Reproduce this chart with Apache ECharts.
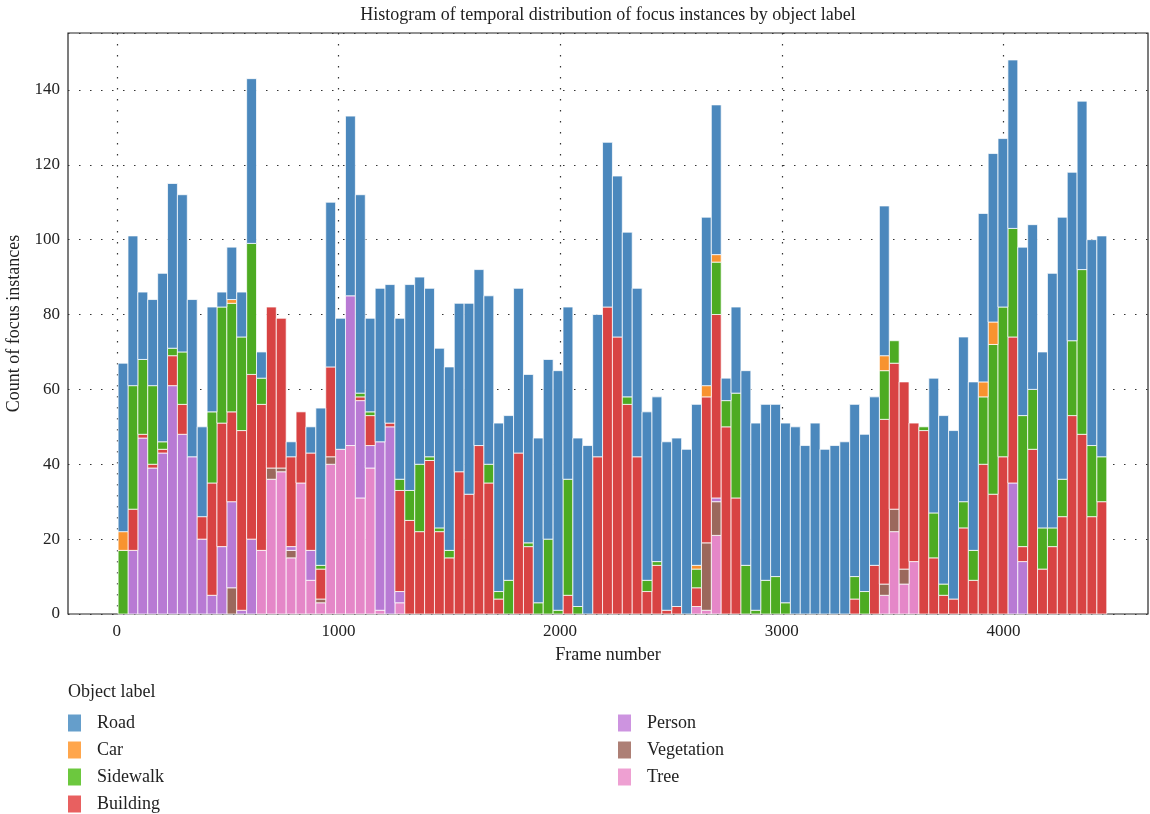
<!DOCTYPE html>
<html>
<head>
  <meta charset="utf-8">
  <title>Histogram of temporal distribution of focus instances</title>
  <script src="https://cdn.jsdelivr.net/npm/echarts@6.0.0/dist/echarts.min.js"></script>
  <style>
    html, body { margin: 0; padding: 0; background: #fff; }
    #chart { width: 1150px; height: 814px; }
  </style>
</head>
<body>
<div id="chart"></div>
<script>
  // 100 frame bins, about 44.6 frames wide, first edge at frame 6
  const binStart = 6;
  const binWidth = 44.6;

  const labelNames = ['Road', 'Car', 'Sidewalk', 'Building', 'Person', 'Vegetation', 'Tree'];
  const xTicks = [0, 1000, 2000, 3000, 4000];

  // counts per bin
  const road = [
    45, 40, 18, 23, 45, 44, 42, 42, 24, 28,
    4, 14, 12, 44, 7, 0, 0, 4, 0, 7,
    42, 44, 35, 48, 53, 25, 41, 37, 43, 55,
    50, 45, 48, 49, 45, 51, 47, 45, 45, 44,
    44, 45, 44, 48, 64, 46, 45, 45, 38, 44,
    43, 44, 45, 45, 44, 45, 45, 44, 43, 45,
    40, 6, 23, 52, 50, 47, 46, 48, 50, 45,
    51, 44, 45, 46, 46, 42, 45, 40, 0, 0,
    0, 0, 36, 45, 45, 44, 45, 45, 45, 45,
    45, 45, 44, 47, 68, 70, 45, 45, 55, 59
  ];
  const car = [
    5, 0, 0, 0, 0, 0, 0, 0, 0, 0,
    0, 1, 0, 0, 0, 0, 0, 0, 0, 0,
    0, 0, 0, 0, 0, 0, 0, 0, 0, 0,
    0, 0, 0, 0, 0, 0, 0, 0, 0, 0,
    0, 0, 0, 0, 0, 0, 0, 0, 0, 0,
    0, 0, 0, 0, 0, 0, 0, 0, 1, 3,
    2, 0, 0, 0, 0, 0, 0, 0, 0, 0,
    0, 0, 0, 0, 0, 0, 0, 4, 0, 0,
    0, 0, 0, 0, 0, 0, 0, 4, 6, 0,
    0, 0, 0, 0, 0, 0, 0, 0, 0, 0
  ];
  const sidewalk = [
    17, 33, 20, 21, 2, 2, 14, 0, 0, 19,
    31, 29, 25, 35, 7, 0, 0, 0, 0, 0,
    1, 0, 0, 0, 1, 1, 0, 0, 3, 8,
    18, 1, 1, 2, 0, 0, 0, 5, 2, 9,
    0, 1, 3, 20, 1, 31, 2, 0, 0, 0,
    0, 2, 0, 3, 1, 0, 0, 0, 5, 0,
    14, 7, 28, 13, 1, 9, 10, 3, 0, 0,
    0, 0, 0, 0, 6, 6, 0, 13, 6, 0,
    0, 1, 12, 3, 0, 7, 8, 18, 40, 40,
    29, 35, 16, 11, 5, 10, 20, 44, 19, 12
  ];
  const building = [
    0, 11, 1, 1, 1, 8, 8, 0, 6, 30,
    33, 24, 48, 44, 39, 43, 40, 24, 19, 26,
    8, 24, 0, 0, 1, 8, 0, 1, 27, 25,
    22, 41, 22, 15, 38, 32, 45, 35, 4, 0,
    43, 18, 0, 0, 0, 5, 0, 0, 42, 82,
    74, 56, 42, 6, 13, 1, 2, 0, 5, 39,
    49, 50, 31, 0, 0, 0, 0, 0, 0, 0,
    0, 0, 0, 0, 4, 0, 13, 44, 39, 50,
    37, 49, 15, 5, 4, 23, 9, 40, 32, 42,
    39, 4, 44, 12, 18, 26, 53, 48, 26, 30
  ];
  const person = [
    0, 17, 47, 39, 43, 61, 48, 42, 20, 5,
    18, 23, 1, 20, 0, 0, 0, 1, 0, 8,
    0, 0, 0, 40, 26, 6, 45, 50, 3, 0,
    0, 0, 0, 0, 0, 0, 0, 0, 0, 0,
    0, 0, 0, 0, 0, 0, 0, 0, 0, 0,
    0, 0, 0, 0, 0, 0, 0, 0, 0, 0,
    1, 0, 0, 0, 0, 0, 0, 0, 0, 0,
    0, 0, 0, 0, 0, 0, 0, 0, 0, 0,
    0, 0, 0, 0, 0, 0, 0, 0, 0, 0,
    35, 14, 0, 0, 0, 0, 0, 0, 0, 0
  ];
  const vegetation = [
    0, 0, 0, 0, 0, 0, 0, 0, 0, 0,
    0, 7, 0, 0, 0, 3, 1, 2, 0, 0,
    1, 2, 0, 0, 0, 0, 0, 0, 0, 0,
    0, 0, 0, 0, 0, 0, 0, 0, 0, 0,
    0, 0, 0, 0, 0, 0, 0, 0, 0, 0,
    0, 0, 0, 0, 0, 0, 0, 0, 0, 18,
    9, 0, 0, 0, 0, 0, 0, 0, 0, 0,
    0, 0, 0, 0, 0, 0, 0, 3, 6, 4,
    0, 0, 0, 0, 0, 0, 0, 0, 0, 0,
    0, 0, 0, 0, 0, 0, 0, 0, 0, 0
  ];
  const tree = [
    0, 0, 0, 0, 0, 0, 0, 0, 0, 0,
    0, 0, 0, 0, 17, 36, 38, 15, 35, 9,
    3, 40, 44, 45, 31, 39, 1, 0, 3, 0,
    0, 0, 0, 0, 0, 0, 0, 0, 0, 0,
    0, 0, 0, 0, 0, 0, 0, 0, 0, 0,
    0, 0, 0, 0, 0, 0, 0, 0, 2, 1,
    21, 0, 0, 0, 0, 0, 0, 0, 0, 0,
    0, 0, 0, 0, 0, 0, 0, 5, 22, 8,
    14, 0, 0, 0, 0, 0, 0, 0, 0, 0,
    0, 0, 0, 0, 0, 0, 0, 0, 0, 0
  ];

  // bar colours and (lighter) legend swatch colours
  const barColors = {
    Road: '#4b88bd', Car: '#f8932f', Sidewalk: '#4dab22', Building: '#d84343',
    Person: '#b87ad4', Vegetation: '#9b685c', Tree: '#e587c8'
  };
  const swatchColors = {
    Road: '#659ecb', Car: '#ffa64c', Sidewalk: '#6cc83e', Building: '#e86060',
    Person: '#cd94e0', Vegetation: '#ad7f75', Tree: '#eea0d2'
  };

  // stacked bottom -> top
  const stackOrder = [
    ['Tree', tree], ['Vegetation', vegetation], ['Person', person],
    ['Building', building], ['Sidewalk', sidewalk], ['Car', car], ['Road', road]
  ];

  const base = road.map(() => 0);
  const series = stackOrder.map(function (item) {
    const name = item[0], vals = item[1];
    const data = [];
    vals.forEach(function (v, i) {
      const x0 = binStart + binWidth * i;
      if (v > 0) data.push([x0, x0 + binWidth, base[i], base[i] + v]);
      base[i] += v;
    });
    return {
      name: name,
      type: 'custom',
      itemStyle: { color: barColors[name] },
      encode: { x: [0, 1], y: [2, 3] },
      renderItem: function (params, api) {
        const p0 = api.coord([api.value(0), api.value(3)]);
        const p1 = api.coord([api.value(1), api.value(2)]);
        return {
          type: 'rect',
          shape: { x: p0[0], y: p0[1], width: p1[0] - p0[0], height: p1[1] - p0[1] },
          style: { fill: api.visual('color'), stroke: 'rgba(255,255,255,0.75)', lineWidth: 1 }
        };
      },
      data: data
    };
  });

  const font = 'Liberation Serif';
  const txt = { fontFamily: font, fontSize: 18, color: '#222' };
  const tickTxt = { fontFamily: font, fontSize: 17, color: '#222' };

  function legendItems(names) {
    return names.map(function (n) {
      return { name: n, itemStyle: { color: swatchColors[n] } };
    });
  }
  const legendCommon = {
    orient: 'vertical',
    top: 714,
    padding: 0,
    icon: 'rect',
    itemWidth: 13,
    itemHeight: 17,
    itemGap: 9,
    textStyle: { fontFamily: font, fontSize: 18, color: '#222', padding: [0, 0, 0, 11] }
  };

  const myChart = echarts.init(document.getElementById('chart'));
  const option = {
    animation: false,
    backgroundColor: '#fff',
    graphic: [
      {
        type: 'text', x: 608, y: 15,
        style: { text: 'Histogram of temporal distribution of focus instances by object label',
          font: '18px "' + font + '"', fill: '#222', align: 'center', verticalAlign: 'middle' }
      },
      {
        type: 'text', x: 68, y: 692,
        style: { text: 'Object label', font: '18px "' + font + '"', fill: '#222',
          align: 'left', verticalAlign: 'middle' }
      }
    ],
    legend: [
      Object.assign({}, legendCommon, { left: 68, data: legendItems(labelNames.slice(0, 4)) }),
      Object.assign({}, legendCommon, { left: 618, data: legendItems(labelNames.slice(4)) })
    ],
    grid: {
      left: 68, right: 2, top: 33, bottom: 200,
      outerBoundsMode: 'none',
      show: true, borderColor: '#262626', borderWidth: 1.2
    },
    xAxis: {
      type: 'value',
      min: -220,
      max: 4652,
      name: 'Frame number',
      nameLocation: 'middle',
      nameGap: 32,
      nameTextStyle: txt,
      axisLine: { show: false },
      axisTick: { show: false, customValues: xTicks },
      axisLabel: Object.assign({
        customValues: xTicks, margin: 9,
        formatter: function (v) { return String(v); }
      }, tickTxt),
      splitLine: { show: true, lineStyle: { color: '#333', width: 1.2, type: [1.5, 9.5] } }
    },
    yAxis: {
      type: 'value',
      min: 0,
      max: 155.2,
      interval: 20,
      name: 'Count of focus instances',
      nameLocation: 'middle',
      nameGap: 37,
      nameTextStyle: txt,
      axisLine: { show: false },
      axisTick: { show: false },
      axisLabel: Object.assign({ margin: 8, showMaxLabel: false }, tickTxt),
      splitLine: { show: true, lineStyle: { color: '#333', width: 1.2, type: [1.5, 9.5] } }
    },
    series: series
  };
  myChart.setOption(option);
</script>
</body>
</html>
